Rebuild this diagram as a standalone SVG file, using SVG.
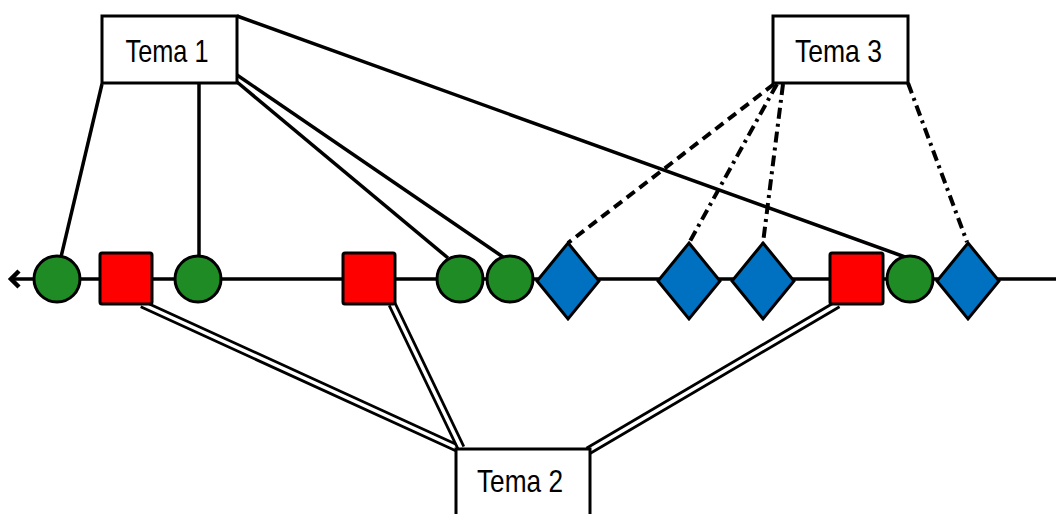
<svg xmlns="http://www.w3.org/2000/svg" width="1056" height="514" viewBox="0 0 1056 514">
<style>
.box{fill:#fff;stroke:#000;stroke-width:3}
.lbl{font-family:"Liberation Sans",Arial,sans-serif;font-size:32px;fill:#000;text-anchor:middle}
.s{stroke:#000;stroke-width:3.5;fill:none}
.dash{stroke:#000;stroke-width:4;fill:none;stroke-dasharray:10 6}
.dd{stroke:#000;stroke-width:4;fill:none;stroke-dasharray:11 5 3 5}
.dblo{stroke:#000;stroke-width:9;fill:none}
.dbli{stroke:#fff;stroke-width:3.5;fill:none}
.c{fill:#1f8b24;stroke:#000;stroke-width:3}
.q{fill:#ff0000;stroke:#000;stroke-width:3}
.d{fill:#0070c0;stroke:#000;stroke-width:3}
</style>
<g id="connectors">
<line class="s" x1="10" y1="279" x2="1056" y2="279"/>
<polyline class="s" style="stroke-width:4.5" points="19,271 11,279 19,287"/>
<line class="s" x1="102" y1="84" x2="61" y2="257"/>
<line class="s" x1="199" y1="83" x2="199" y2="257"/>
<line class="s" x1="237" y1="75" x2="503" y2="257"/>
<line class="s" x1="237" y1="82" x2="448" y2="258"/>
<line class="s" x1="237" y1="16" x2="905" y2="257"/>
<line class="dash" x1="774" y1="84" x2="568" y2="243"/>
<line class="dd" x1="777" y1="84" x2="689" y2="243"/>
<line class="dd" x1="783" y1="84" x2="763" y2="243"/>
<line class="dd" x1="908" y1="83" x2="967" y2="242"/>
<line class="dblo" x1="142" y1="304" x2="457" y2="448"/>
<line class="dbli" x1="142" y1="304" x2="457" y2="448"/>
<line class="dblo" x1="392" y1="304" x2="461" y2="448"/>
<line class="dbli" x1="392" y1="304" x2="461" y2="448"/>
<line class="dblo" x1="838" y1="304" x2="588" y2="451"/>
<line class="dbli" x1="838" y1="304" x2="588" y2="451"/>
</g>
<g id="tema1"><rect class="box" x="102" y="16" width="135" height="67"/><text class="lbl" x="167" y="62" textLength="83" lengthAdjust="spacingAndGlyphs">Tema 1</text></g>
<g id="tema3"><rect class="box" x="773" y="16" width="135" height="67"/><text class="lbl" x="838.5" y="62" textLength="87" lengthAdjust="spacingAndGlyphs">Tema 3</text></g>
<g id="tema2"><rect class="box" x="456" y="449" width="134" height="80"/><text class="lbl" x="520" y="492" textLength="86" lengthAdjust="spacingAndGlyphs">Tema 2</text></g>
<g id="c1"><circle class="c" cx="57" cy="279" r="23"/></g>
<g id="q1"><rect class="q" x="100" y="253" width="52" height="51" rx="2"/></g>
<g id="c2"><circle class="c" cx="198" cy="279" r="23"/></g>
<g id="q2"><rect class="q" x="343" y="253" width="52" height="51" rx="2"/></g>
<g id="c3"><circle class="c" cx="460" cy="279" r="23"/></g>
<g id="c4"><circle class="c" cx="510" cy="279" r="23"/></g>
<g id="d1"><polygon class="d" points="568,243 599,281 568,319 537,281"/></g>
<g id="d2"><polygon class="d" points="689,243 720,281 689,319 658,281"/></g>
<g id="d3"><polygon class="d" points="763,243 794,281 763,319 732,281"/></g>
<g id="q3"><rect class="q" x="830" y="253" width="53" height="51" rx="2"/></g>
<g id="c5"><circle class="c" cx="910" cy="279" r="23"/></g>
<g id="d4"><polygon class="d" points="968,243 999,281 968,319 937,281"/></g>
</svg>
